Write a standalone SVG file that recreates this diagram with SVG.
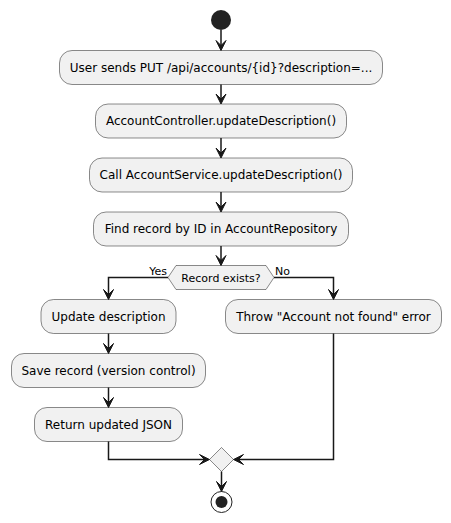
<svg xmlns="http://www.w3.org/2000/svg" xmlns:xlink="http://www.w3.org/1999/xlink" width="451" height="523" viewBox="0 0 451 523">
<style>
.box{fill:#F1F1F1;stroke:#181818;stroke-width:0.5}
.lbl{font-family:"DejaVu Sans",sans-serif;font-size:12px;fill:#000;text-anchor:middle}
.sm{font-family:"DejaVu Sans",sans-serif;font-size:11px;fill:#000}
.ln{fill:none;stroke:#181818;stroke-width:1.5}
.ah{fill:#181818;stroke:#181818;stroke-width:1}
</style>
<defs>
<polygon id="ah" class="ah" points="-5,-10 0,0 5,-10 0,-5"/>
</defs>
<g id="start"><circle cx="221" cy="20" r="10" fill="#222222"/></g>
<g id="n1"><rect class="box" x="59.5" y="50.5" width="323" height="34" rx="12.5"/><text class="lbl" x="221" y="71.5">User sends PUT /api/accounts/{id}?description=...</text></g>
<g id="n2"><rect class="box" x="95.5" y="104" width="251" height="34" rx="12.5"/><text class="lbl" x="221" y="125">AccountController.updateDescription()</text></g>
<g id="n3"><rect class="box" x="89.5" y="158" width="263" height="34" rx="12.5"/><text class="lbl" x="221" y="179">Call AccountService.updateDescription()</text></g>
<g id="n4"><rect class="box" x="93.5" y="212" width="255" height="34" rx="12.5"/><text class="lbl" x="221" y="233">Find record by ID in AccountRepository</text></g>
<g id="dec"><polygon class="box" points="168,277.5 176,265.5 266,265.5 274,277.5 266,289.5 176,289.5"/><text class="sm" x="221" y="281.5" text-anchor="middle">Record exists?</text><text class="sm" x="167" y="275" text-anchor="end">Yes</text><text class="sm" x="275" y="275">No</text></g>
<g id="n5"><rect class="box" x="41" y="299.5" width="135" height="34" rx="12.5"/><text class="lbl" x="108.5" y="320.5">Update description</text></g>
<g id="n6"><rect class="box" x="225.5" y="299.5" width="216" height="34" rx="12.5"/><text class="lbl" x="333.5" y="320.5">Throw "Account not found" error</text></g>
<g id="n7"><rect class="box" x="11.5" y="353.5" width="194" height="34" rx="12.5"/><text class="lbl" x="108.5" y="374.5">Save record (version control)</text></g>
<g id="n8"><rect class="box" x="34.5" y="407.5" width="148" height="34" rx="12.5"/><text class="lbl" x="108.5" y="428.5">Return updated JSON</text></g>
<g id="merge"><polygon class="box" points="221.5,447.5 233.5,459.5 221.5,471.5 209.5,459.5"/></g>
<g id="end"><circle cx="221.5" cy="502" r="10.5" fill="none" stroke="#222222" stroke-width="1"/><circle cx="221.5" cy="502" r="6" fill="#222222"/></g>
<g id="connectors">
<line class="ln" x1="221" y1="30" x2="221" y2="48"/><use xlink:href="#ah" transform="translate(221,50.5)"/>
<line class="ln" x1="221" y1="84.5" x2="221" y2="102"/><use xlink:href="#ah" transform="translate(221,104)"/>
<line class="ln" x1="221" y1="138" x2="221" y2="156"/><use xlink:href="#ah" transform="translate(221,158)"/>
<line class="ln" x1="221" y1="192" x2="221" y2="210"/><use xlink:href="#ah" transform="translate(221,212)"/>
<line class="ln" x1="221" y1="246" x2="221" y2="263"/><use xlink:href="#ah" transform="translate(221,265.5)"/>
<polyline class="ln" points="168,277.5 108.5,277.5 108.5,297"/><use xlink:href="#ah" transform="translate(108.5,299.5)"/>
<polyline class="ln" points="274,277.5 333.5,277.5 333.5,297"/><use xlink:href="#ah" transform="translate(333.5,299.5)"/>
<line class="ln" x1="108.5" y1="333.5" x2="108.5" y2="351"/><use xlink:href="#ah" transform="translate(108.5,353.5)"/>
<line class="ln" x1="108.5" y1="387.5" x2="108.5" y2="405"/><use xlink:href="#ah" transform="translate(108.5,407.5)"/>
<polyline class="ln" points="108.5,441.5 108.5,459.5 207,459.5"/><use xlink:href="#ah" transform="translate(209.5,459.5) rotate(-90)"/>
<polyline class="ln" points="333.5,333.5 333.5,459.5 236,459.5"/><use xlink:href="#ah" transform="translate(233.5,459.5) rotate(90)"/>
<line class="ln" x1="221.5" y1="471.5" x2="221.5" y2="489"/><use xlink:href="#ah" transform="translate(221.5,491.5)"/>
</g>
</svg>
